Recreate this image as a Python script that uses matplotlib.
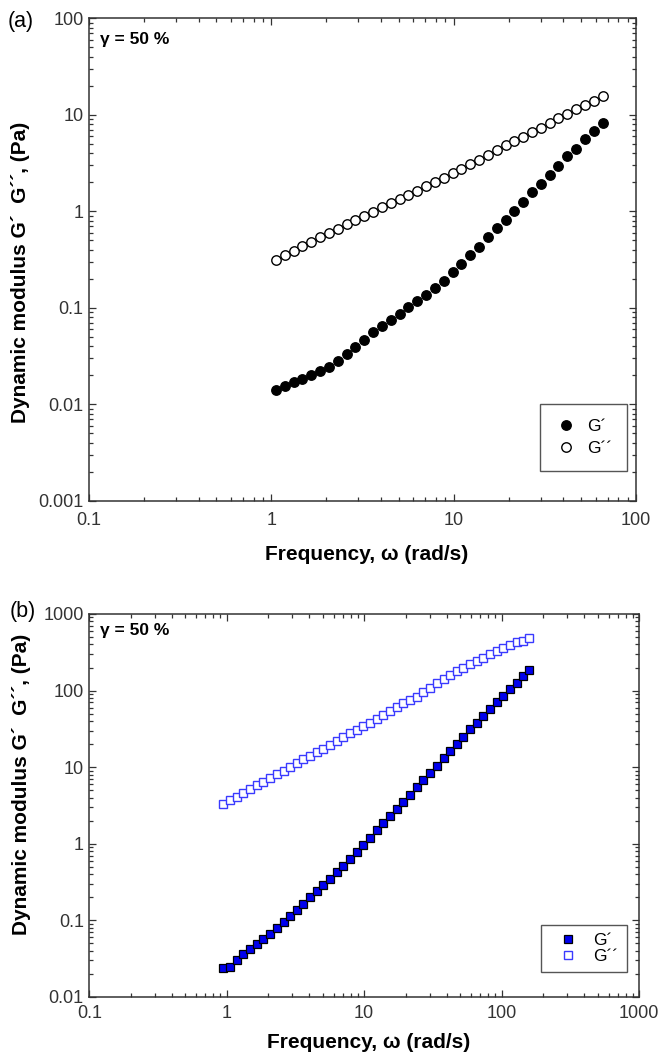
import matplotlib
matplotlib.use("Agg")
import matplotlib.pyplot as plt
from matplotlib.ticker import LogLocator, FuncFormatter, NullFormatter

plt.rcParams["font.family"] = ["Liberation Sans", "DejaVu Sans"]

# frequency sweep at 50 % strain, panel (a)
omega_a = [1.06, 1.19, 1.33, 1.48, 1.66, 1.85, 2.07, 2.32, 2.59, 2.89,
           3.24, 3.62, 4.05, 4.52, 5.05, 5.65, 6.32, 7.06, 7.89, 8.82,
           9.86, 11.0, 12.3, 13.8, 15.4, 17.2, 19.3, 21.5, 24.1, 26.9,
           30.1, 33.6, 37.6, 42.0, 47.0, 52.5, 58.7, 65.6]
g_storage_a = [0.0142, 0.0156, 0.0172, 0.0185, 0.0201, 0.0222, 0.0246, 0.0281,
               0.0335, 0.0393, 0.0468, 0.0557, 0.0653, 0.0753, 0.0869, 0.102,
               0.117, 0.136, 0.160, 0.192, 0.236, 0.286, 0.352, 0.432,
               0.536, 0.670, 0.817, 1.02, 1.26, 1.57, 1.93, 2.39,
               2.96, 3.70, 4.47, 5.58, 6.81, 8.18]
g_loss_a = [0.315, 0.357, 0.393, 0.436, 0.483, 0.536, 0.599, 0.664,
            0.743, 0.817, 0.898, 0.995, 1.10, 1.21, 1.33, 1.46,
            1.63, 1.81, 2.00, 2.22, 2.47, 2.76, 3.08, 3.44,
            3.87, 4.33, 4.84, 5.37, 5.95, 6.60, 7.38, 8.30,
            9.20, 10.3, 11.4, 12.6, 13.9, 15.5]

# panel (b)
omega_b = [0.935, 1.06, 1.18, 1.32, 1.48, 1.65, 1.85, 2.07, 2.31, 2.59,
           2.89, 3.23, 3.61, 4.04, 4.52, 5.05, 5.65, 6.32, 7.07, 7.90,
           8.84, 9.88, 11.1, 12.4, 13.8, 15.4, 17.3, 19.3, 21.6, 24.1,
           27.0, 30.2, 33.8, 37.8, 42.2, 47.2, 52.8, 59.0, 66.0, 73.8,
           82.5, 92.3, 103, 115, 129, 144, 159]
g_storage_b = [0.0241, 0.0245, 0.0306, 0.0360, 0.0418, 0.0486, 0.0570, 0.0670,
               0.0794, 0.0942, 0.114, 0.138, 0.165, 0.202, 0.242, 0.287,
               0.347, 0.424, 0.519, 0.634, 0.782, 0.976, 1.20, 1.49,
               1.85, 2.29, 2.85, 3.49, 4.39, 5.43, 6.76, 8.43,
               10.5, 13.0, 16.2, 20.2, 24.9, 31.1, 38.0, 46.5,
               56.8, 70.1, 85.6, 105, 127, 155, 185]
g_loss_b = [3.28, 3.70, 4.10, 4.61, 5.21, 5.82, 6.43, 7.25,
            8.10, 8.95, 10.1, 11.2, 12.6, 13.9, 15.7, 17.4,
            19.4, 22.1, 24.4, 27.6, 30.5, 34.0, 38.0, 42.9,
            47.9, 53.5, 60.3, 68.0, 75.2, 83.0, 94.6, 109,
            124, 140, 160, 180, 199, 220, 243, 269,
            297, 328, 363, 394, 427, 448, 481]

DARK = "#333333"
BLUE_FILL = "#0000ee"
BLUE_EDGE = "#3a3aff"

YLABEL = "Dynamic modulus G\u00b4  G\u00b4\u00b4, (Pa)"
XLABEL = "Frequency, \u03c9 (rad/s)"


def plain_number(value, pos):
    return "%g" % value


def style_log_axes(ax, xlim, ylim, xpad):
    ax.set_xscale("log")
    ax.set_yscale("log")
    ax.set_xlim(*xlim)
    ax.set_ylim(*ylim)
    for axis in (ax.xaxis, ax.yaxis):
        axis.set_major_locator(LogLocator(base=10, numticks=20))
        axis.set_minor_locator(LogLocator(base=10, subs=range(2, 10), numticks=20))
        axis.set_major_formatter(FuncFormatter(plain_number))
        axis.set_minor_formatter(NullFormatter())
    ax.tick_params(which="both", direction="in", top=True, right=True,
                   colors=DARK, width=0.9)
    ax.tick_params(which="major", length=5, labelsize=13)
    ax.tick_params(which="minor", length=3)
    ax.tick_params(axis="x", which="major", pad=xpad)
    ax.tick_params(axis="y", which="major", pad=4)
    for spine in ax.spines.values():
        spine.set_color(DARK)
        spine.set_linewidth(1.1)


def add_labels(ax, xlabel_y, ylabel_xy, strain_xy):
    ax.set_xlabel(XLABEL, fontsize=15, fontweight="bold")
    ax.xaxis.label.set_va("center")
    ax.xaxis.set_label_coords(0.508, xlabel_y)
    ax.set_ylabel(YLABEL, fontsize=15, fontweight="bold")
    ax.yaxis.label.set_va("center")
    ax.yaxis.set_label_coords(*ylabel_xy)
    ax.text(strain_xy[0], strain_xy[1], "\u03b3 = 50 %", transform=ax.transAxes,
            fontsize=12.5, fontweight="bold", va="center", ha="left")


def boxed_legend(ax, anchor, **kwargs):
    leg = ax.legend(loc="upper left", bbox_to_anchor=anchor, fontsize=12.5,
                    numpoints=1, borderaxespad=0, fancybox=False, framealpha=1,
                    **kwargs)
    leg.get_frame().set_edgecolor("#555555")
    leg.get_frame().set_linewidth(1.0)
    return leg


fig = plt.figure(figsize=(6.63, 10.56), dpi=100)

# (a) circles
ax_a = fig.add_axes([0.1342, 0.5256, 0.8250, 0.4571])
ax_a.plot(omega_a, g_storage_a, linestyle="none", marker="o", markersize=6.8,
          markerfacecolor="black", markeredgecolor="black", label="G\u00b4")
ax_a.plot(omega_a, g_loss_a, linestyle="none", marker="o", markersize=6.8,
          markerfacecolor="white", markeredgecolor="black", markeredgewidth=1.0,
          label="G\u00b4\u00b4")
style_log_axes(ax_a, (0.1, 100), (0.001, 100), xpad=8)
add_labels(ax_a, -0.110, (-0.126, 0.474), (0.02, 0.955))
boxed_legend(ax_a, (0.8245, 0.201), handlelength=1.3, handletextpad=0.55,
             borderpad=0.85, labelspacing=0.4)
fig.text(8 / 663, 1 - 21 / 1056, "(a)", fontsize=15.5, va="center", ha="left")

# (b) squares
ax_b = fig.add_axes([0.1347, 0.0559, 0.8291, 0.3627])
ax_b.plot(omega_b, g_storage_b, linestyle="none", marker="s", markersize=5.2,
          markerfacecolor=BLUE_FILL, markeredgecolor="black", markeredgewidth=0.9,
          label="G\u00b4")
ax_b.plot(omega_b, g_loss_b, linestyle="none", marker="s", markersize=5.2,
          markerfacecolor="white", markeredgecolor=BLUE_EDGE, markeredgewidth=1.0,
          label="G\u00b4\u00b4")
style_log_axes(ax_b, (0.1, 1000), (0.01, 1000), xpad=6)
add_labels(ax_b, -0.120, (-0.124, 0.556), (0.0195, 0.958))
boxed_legend(ax_b, (0.821, 0.188), handlelength=2.3, handletextpad=0.3,
             borderpad=0.45, labelspacing=0.05)
fig.text(10 / 663, 1 - 612 / 1056, "(b)", fontsize=15.5, va="center", ha="left")

fig.savefig("out.png", dpi=100)
